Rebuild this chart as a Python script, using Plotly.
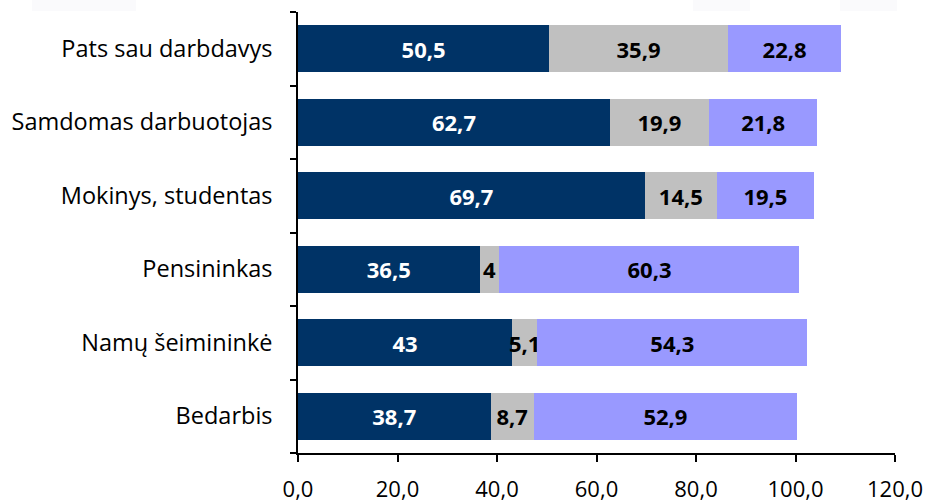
import plotly.graph_objects as go

categories = ["Pats sau darbdavys", "Samdomas darbuotojas", "Mokinys, studentas",
              "Pensininkas", "Namų šeimininkė", "Bedarbis"]
series1 = [50.5, 62.7, 69.7, 36.5, 43, 38.7]
series2 = [35.9, 19.9, 14.5, 4, 5.1, 8.7]
series3 = [22.8, 21.8, 19.5, 60.3, 54.3, 52.9]
x_ticks = [0, 20, 40, 60, 80, 100, 120]

colors = ["#003366", "#C0C0C0", "#9999FF"]
text_colors = ["white", "black", "black"]


def fmt(v):
    return f"{v:g}".replace(".", ",")


fig = go.Figure()
for vals, col, tcol in zip([series1, series2, series3], colors, text_colors):
    fig.add_trace(go.Bar(
        y=categories, x=vals, orientation="h",
        marker=dict(color=col, line=dict(width=0)),
        text=[fmt(v) for v in vals],
        textposition="inside", insidetextanchor="middle",
        textangle=0, constraintext="none",
        textfont=dict(family="Open Sans", size=22, color=tcol, weight="bold"),
        cliponaxis=False,
    ))

fig.update_layout(
    barmode="stack", bargap=0.36, showlegend=False,
    width=926, height=504,
    margin=dict(l=298, r=31, t=12, b=51, autoexpand=False),
    paper_bgcolor="white", plot_bgcolor="white",
    separators=", ",
    uniformtext=dict(minsize=22, mode="show"),
    font=dict(family="Open Sans", color="black"),
    xaxis=dict(range=[0, 120], tickvals=x_ticks, tickformat=".1f",
               automargin=False,
               showgrid=False, zeroline=False, showline=True,
               linecolor="black", linewidth=1.5, ticks="outside",
               ticklen=7, tickcolor="black", tickwidth=1.5,
               tickfont=dict(size=22, family="Open Sans"),
               ticklabelstandoff=9),
    yaxis=dict(categoryorder="array", categoryarray=categories[::-1],
               automargin=False,
               showgrid=False, zeroline=False, showline=True,
               linecolor="black", linewidth=1.5, ticks="outside",
               ticklen=6, tickcolor="black", tickwidth=1.5,
               tickson="boundaries",
               tickfont=dict(size=23.5, family="Open Sans"),
               ticklabelstandoff=19),
)

for x0, x1 in [(32, 136), (693, 750), (840, 897)]:
    fig.add_shape(type="rect", xref="paper", yref="paper",
                  x0=(x0 - 298) / 597, x1=(x1 - 298) / 597,
                  y0=1 + 1 / 441, y1=1 + 12 / 441,
                  fillcolor="#FAFAFC", line=dict(width=0), layer="below")

fig.write_html(
    "out.html",
    config={"displayModeBar": False},
    post_script="document.body.style.margin='0';"
                "document.body.style.overflow='hidden';",
)
